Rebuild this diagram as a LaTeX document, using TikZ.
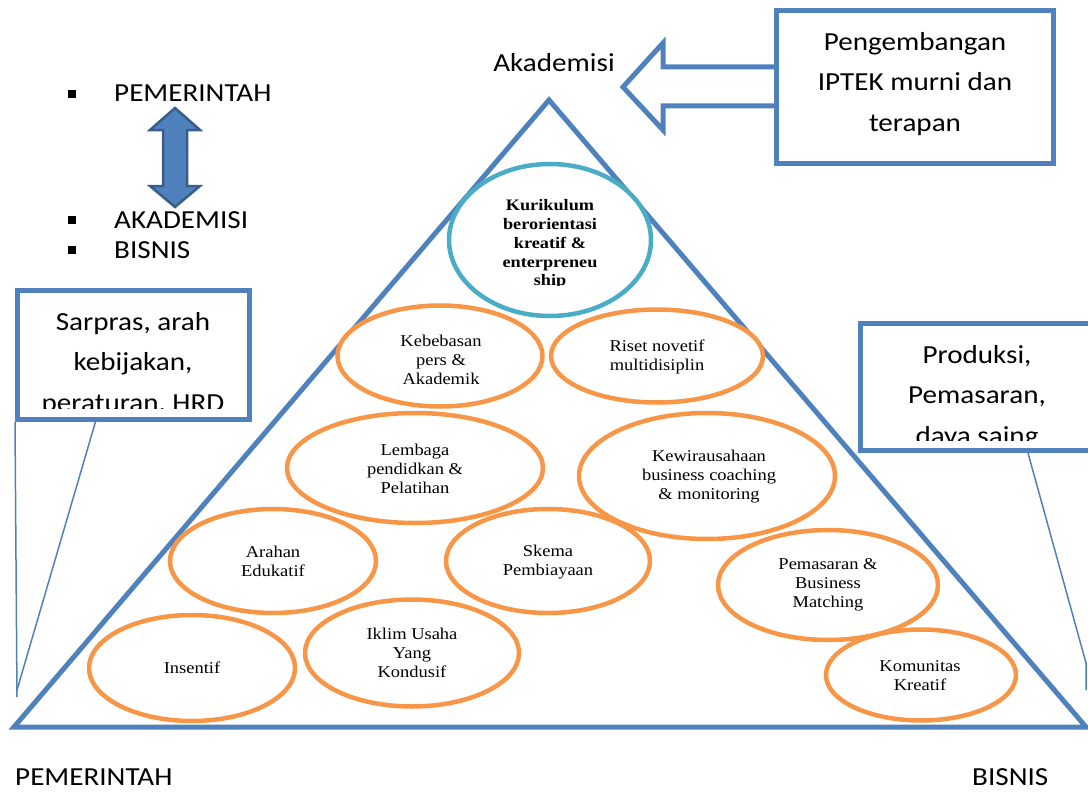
\documentclass[tikz,border=0pt]{standalone}
\usepackage{fontspec}
\setmainfont{Carlito}
\newfontfamily\tnr{Liberation Serif}
\usetikzlibrary{shapes.geometric}
\definecolor{pblue}{HTML}{4F81BD}
\definecolor{dblue}{HTML}{385D8A}
\definecolor{porange}{HTML}{F79646}
\definecolor{pteal}{HTML}{4BACC6}
\begin{document}
\begin{tikzpicture}[x=1pt,y=-1pt,
  big/.style={font=\fontsize{26}{40.5}\selectfont, xscale=1.12, inner sep=0pt, align=center},
  oval/.style={ellipse, draw=porange, line width=4.5pt, fill=white, inner sep=0pt},
  otxt/.style={font=\tnr\fontsize{16.5}{19}\selectfont, xscale=1.12, inner sep=0pt, align=center},
  bluebox/.style={draw=pblue, line width=5pt, fill=white},
  callline/.style={draw=pblue, line width=1.5pt},
  bullet/.style={fill=black, minimum size=8pt, inner sep=0pt}]
\useasboundingbox (0,0) rectangle (1088,792);
\clip (0,0) rectangle (1088,792);

% pyramid
\coordinate (apex) at (549,100);
\coordinate (bl) at (14,727);
\coordinate (br) at (1086,727);
\draw[pblue, line width=5pt] (apex) -- (br) -- (bl) -- cycle;

% ellipses
\node[oval, minimum width=205pt, minimum height=101pt] (kb) at (440,356) {};
\node[oval, minimum width=212pt, minimum height=93pt] (rn) at (657,356) {};
\node[oval, minimum width=256pt, minimum height=110pt] (lp) at (415,468) {};
\node[oval, minimum width=256pt, minimum height=126pt] (kw) at (707,476) {};
\node[oval, minimum width=204pt, minimum height=104pt] (sk) at (548,561) {};
\node[oval, minimum width=206pt, minimum height=104pt] (ar) at (273,561) {};
\node[oval, minimum width=214pt, minimum height=107pt] (ik) at (412,653) {};
\node[oval, minimum width=206pt, minimum height=106pt] (in) at (192,668) {};
\node[oval, minimum width=220pt, minimum height=110pt] (pm) at (828,585) {};
\node[oval, minimum width=190pt, minimum height=91pt] (km) at (921,675) {};
\node[ellipse, draw=pteal, line width=4.5pt, fill=white, inner sep=0pt,
      minimum width=202pt, minimum height=152pt] (kur) at (550,240) {};

\node[otxt] (tkb) at (441,360) {Kebebasan\\pers \&\\Akademik};
\node[otxt] (trn) at (657,357) {Riset novetif\\multidisiplin};
\node[otxt] (tlp) at (415,469) {Lembaga\\pendidkan \&\\Pelatihan};
\node[otxt] (tkw) at (709,477) {Kewirausahaan\\business coaching\\\& monitoring};
\node[otxt] (tsk) at (548,562) {Skema\\Pembiayaan};
\node[otxt] (tar) at (273,561) {Arahan\\Edukatif};
\node[otxt] (tik) at (412,653) {Iklim Usaha\\Yang\\Kondusif};
\node[otxt] (tin) at (192,668) {Insentif};
\node[otxt] (tpm) at (828,585) {Pemasaran \&\\Business\\Matching};
\node[otxt] (tkm) at (920,676) {Komunitas\\Kreatif};
\begin{scope}
  \clip (440,150) rectangle (660,285.5);
  \node[font=\tnr\bfseries\fontsize{16}{18.8}\selectfont, xscale=1.14, inner sep=0pt, align=center]
    (tkur) at (550,244.5) {Kurikulum\\berorientasi\\kreatif \&\\enterpreneu\\ship};
\end{scope}

% Akademisi label and big arrow
\node[big, anchor=base] (akd) at (554,72) {Akademisi};
\draw[pblue, line width=5pt, fill=white, line join=miter]
  (623,87) -- (663,43) -- (663,67) -- (777,67) -- (777,106) -- (663,106) -- (663,130) -- cycle;
\node[bluebox, minimum width=277pt, minimum height=152pt, inner sep=0pt] (ipt) at (914.5,87) {};
\node[big] (tipt) at (915,84) {Pengembangan\\IPTEK murni dan\\terapan};

% left callout
\node[bluebox, minimum width=232pt, minimum height=129pt, inner sep=0pt] (sar) at (133.5,355) {};
\coordinate (ltip) at (17,690);
\coordinate (lend) at (17,697);
\draw[callline] (96,420) -- (ltip);
\draw[callline] (sar.south west) -- (lend);
\begin{scope}
  \clip (20,293) rectangle (247,408);
  \node[big] (tsar) at (133,364) {Sarpras, arah\\kebijakan,\\peraturan, HRD};
\end{scope}

% right callout
\node[bluebox, minimum width=260pt, minimum height=127pt, inner sep=0pt] (prd) at (990.5,387) {};
\coordinate (rtip) at (1086,663);
\coordinate (rend) at (1086,690);
\draw[callline] (1028,453) -- (rtip) -- (rend);
\begin{scope}
  \clip (863,326) rectangle (1088,440);
  \node[big] (tprd) at (977,397) {Produksi,\\Pemasaran,\\daya saing};
\end{scope}

% bullet list
\node[bullet] (b1) at (71.5,94) {};
\node[bullet] (b2) at (71.5,220) {};
\node[bullet] (b3) at (71.5,250) {};
\node[big, anchor=base west] (l1) at (114,102) {PEMERINTAH};
\node[big, anchor=base west] (l2) at (114,228) {AKADEMISI};
\node[big, anchor=base west] (l3) at (114,258) {BISNIS};

% double arrow
\draw[fill=pblue, draw=dblue, line width=2.5pt, line join=miter]
  (175,108) -- (200,130) -- (187,130) -- (187,186) -- (200,186) -- (175,207)
  -- (150,186) -- (163,186) -- (163,130) -- (150,130) -- cycle;

% bottom labels
\node[big, anchor=base west] (bp) at (15,785) {PEMERINTAH};
\node[big, anchor=base west] (bb) at (972,785) {BISNIS};
\end{tikzpicture}
\end{document}
